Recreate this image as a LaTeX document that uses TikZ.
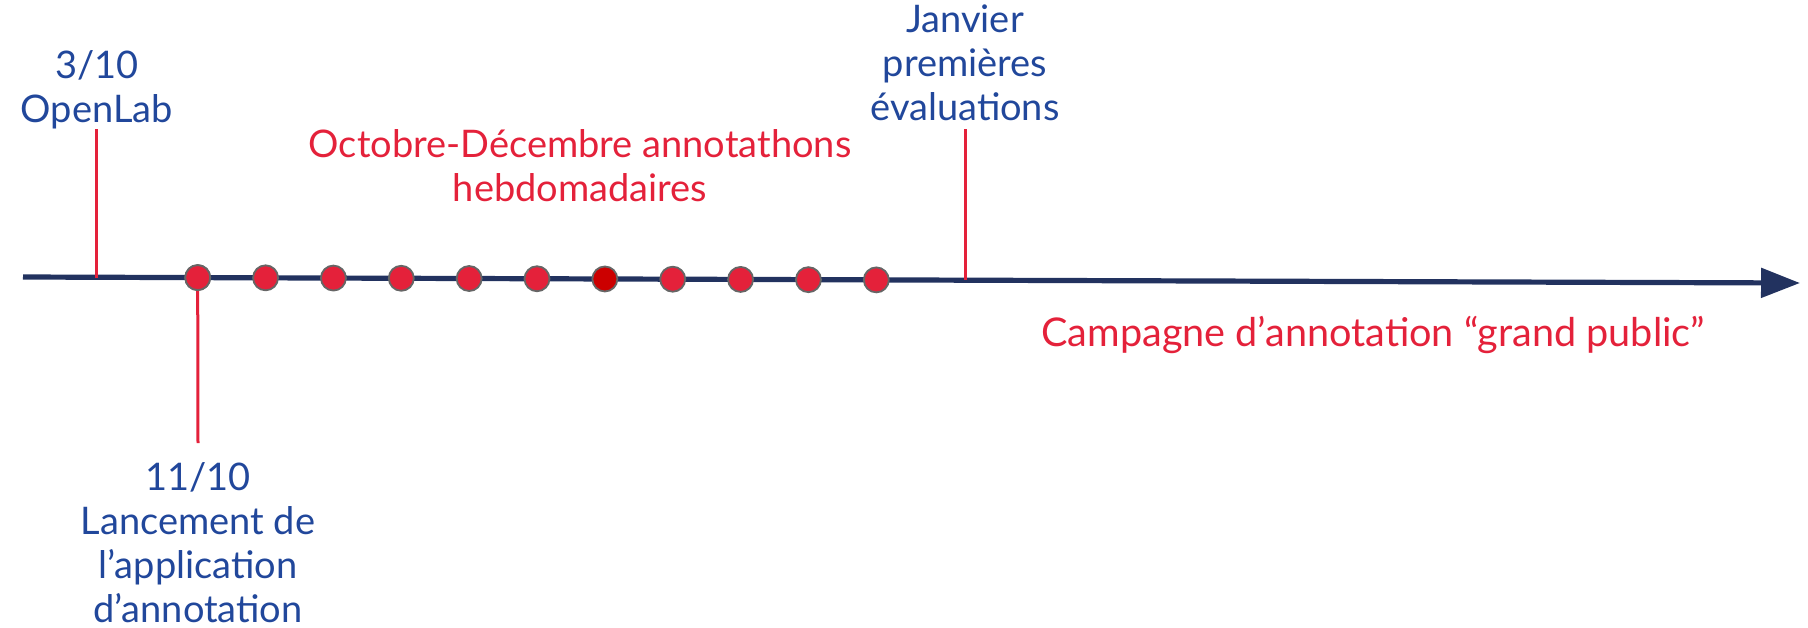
\documentclass[tikz,border=0pt]{standalone}
\usepackage{fontspec}
\setmainfont{Lato}
\usetikzlibrary{arrows.meta}
\definecolor{navy}{HTML}{22325F}
\definecolor{tblue}{HTML}{21479B}
\definecolor{tred}{HTML}{E4213A}
\definecolor{dred}{HTML}{CC0000}
\definecolor{dotborder}{HTML}{666666}
\tikzset{
  axis/.style={draw=navy, line width=2.6pt, -{Triangle[length=19.5pt,width=14.5pt]}},
  tick/.style={draw=tred, line width=1.5pt},
  evdot/.style={circle, fill=tred, draw=dotborder, line width=0.9pt, minimum size=12.5pt, inner sep=0pt},
  evdotdark/.style={evdot, fill=dred},
  bluetext/.style={text=tblue, align=center, anchor=base, inner sep=0pt, font=\fontsize{19}{22}\selectfont},
  redtext/.style={text=tred, align=center, anchor=base, inner sep=0pt, font=\fontsize{19}{22}\selectfont},
}
\begin{document}
\begin{tikzpicture}[x=0.5pt,y=-0.5pt]
\useasboundingbox (0,0) rectangle (1808,627);
\coordinate (start) at (23,277);
\coordinate (end) at (1800,283);
\draw[axis] (start) -- (end);
% ticks
\coordinate (t1top) at (96,129);
\coordinate (t1bot) at (96,277.5);
\coordinate (t3top) at (965,129);
\coordinate (t3bot) at (965,280);
\coordinate (t2bot) at (198,443);
\draw[tick] (t1top) -- (t1bot);
\draw[tick] (t3top) -- (t3bot);
% dots
\foreach \i in {1,...,11}{
  \pgfmathsetmacro{\xx}{197.7+(\i-1)*67.86}
  \pgfmathsetmacro{\yy}{277+(\xx-23)*6/1777}
  \ifnum\i=7
    \node[evdotdark] (d\i) at (\xx,\yy) {};
  \else
    \node[evdot] (d\i) at (\xx,\yy) {};
  \fi
}
\draw[tick] (d1.south) -- (t2bot);
\node[evdot] at (d1) {};
% texts (base anchor = baseline of the last line)
\node[bluetext] (openlab) at (96.7,122) {3/10\\OpenLab};
\node[bluetext] (janvier) at (965,120) {Janvier\\premières\\évaluations};
\node[bluetext] (lancement) at (198,622) {11/10\\Lancement de\\l’application\\d’annotation};
\node[redtext] (octobre) at (580,201) {Octobre-Décembre annotathons\\hebdomadaires};
\node[redtext, anchor=base west, font=\fontsize{19.8}{22}\selectfont] (campagne) at (1041,346) {Campagne d’annotation “grand public”};
\end{tikzpicture}
\end{document}
